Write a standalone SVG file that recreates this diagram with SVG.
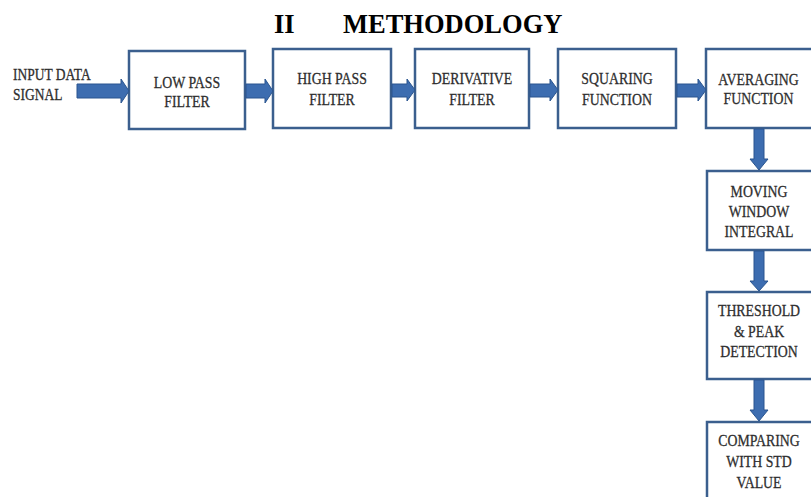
<svg xmlns="http://www.w3.org/2000/svg" width="811" height="497" viewBox="0 0 811 497">
<style>
.box{fill:#ffffff;stroke:#3b5f8e;stroke-width:2.5}
.arr{fill:#3d6db0;stroke:#2a558f;stroke-width:1}
.t{font-family:"Liberation Serif","Times New Roman",serif;font-size:17.5px;fill:#2e2e2e;stroke:#2e2e2e;stroke-width:0.3;text-anchor:middle}
.title{font-family:"Liberation Serif","Times New Roman",serif;font-size:26.5px;font-weight:bold;fill:#000000}
</style>
<rect width="811" height="497" fill="#ffffff"/>
<text class="title" x="274" y="33">II</text>
<text class="title" x="343" y="33">METHODOLOGY</text>

<g id="input">
<g transform="translate(13 0) scale(0.77 1)"><text class="t" style="text-anchor:start" x="0" y="80">INPUT DATA</text></g>
<g transform="translate(13 0) scale(0.77 1)"><text class="t" style="text-anchor:start" x="0" y="100">SIGNAL</text></g>
</g>

<g id="lowpass">
<rect class="box" x="129" y="51" width="116" height="78"/>
<g transform="translate(187 0) scale(0.79 1)"><text class="t" x="0" y="88">LOW PASS</text><text class="t" x="0" y="107">FILTER</text></g>
</g>
<g id="highpass">
<rect class="box" x="273" y="49" width="118" height="79"/>
<g transform="translate(332 0) scale(0.79 1)"><text class="t" x="0" y="84">HIGH PASS</text><text class="t" x="0" y="105">FILTER</text></g>
</g>
<g id="derivative">
<rect class="box" x="415" y="49" width="114" height="79"/>
<g transform="translate(472 0) scale(0.79 1)"><text class="t" x="0" y="84">DERIVATIVE</text><text class="t" x="0" y="105">FILTER</text></g>
</g>
<g id="squaring">
<rect class="box" x="558" y="49" width="118" height="79"/>
<g transform="translate(617 0) scale(0.79 1)"><text class="t" x="0" y="84">SQUARING</text><text class="t" x="0" y="105">FUNCTION</text></g>
</g>
<g id="averaging">
<rect class="box" x="706" y="49" width="112" height="79"/>
<g transform="translate(758.5 0) scale(0.79 1)"><text class="t" x="0" y="85">AVERAGING</text><text class="t" x="0" y="104">FUNCTION</text></g>
</g>
<g id="moving">
<rect class="box" x="707" y="171" width="112" height="79"/>
<g transform="translate(759 0) scale(0.79 1)"><text class="t" x="0" y="197">MOVING</text><text class="t" x="0" y="217">WINDOW</text><text class="t" x="0" y="237">INTEGRAL</text></g>
</g>
<g id="threshold">
<rect class="box" x="707" y="292" width="112" height="87"/>
<g transform="translate(759 0) scale(0.79 1)"><text class="t" x="0" y="316">THRESHOLD</text><text class="t" x="0" y="337">&amp; PEAK</text><text class="t" x="0" y="357">DETECTION</text></g>
</g>
<g id="comparing">
<rect class="box" x="707" y="422" width="112" height="80"/>
<g transform="translate(759 0) scale(0.79 1)"><text class="t" x="0" y="446">COMPARING</text><text class="t" x="0" y="467">WITH STD</text><text class="t" x="0" y="488">VALUE</text></g>
</g>

<g id="connectors">
<polygon class="arr" points="77,84 121,84 121,79 129,91 121,103 121,98 77,98"/>
<polygon class="arr" points="246,84 265,84 265,79 273,91 265,103 265,98 246,98"/>
<polygon class="arr" points="392,84 407,84 407,79 415,90 407,101 407,97 392,97"/>
<polygon class="arr" points="530,84 550,84 550,79 558,90 550,101 550,97 530,97"/>
<polygon class="arr" points="677,84 698,84 698,79 706,90 698,101 698,97 677,97"/>
<polygon class="arr" points="754,129 764,129 764,159 768,159 759,170 750,159 754,159"/>
<polygon class="arr" points="754,251 764,251 764,281 768,281 759,291 750,281 754,281"/>
<polygon class="arr" points="754,380 764,380 764,410 768,410 759,421 750,410 754,410"/>
</g>
</svg>
